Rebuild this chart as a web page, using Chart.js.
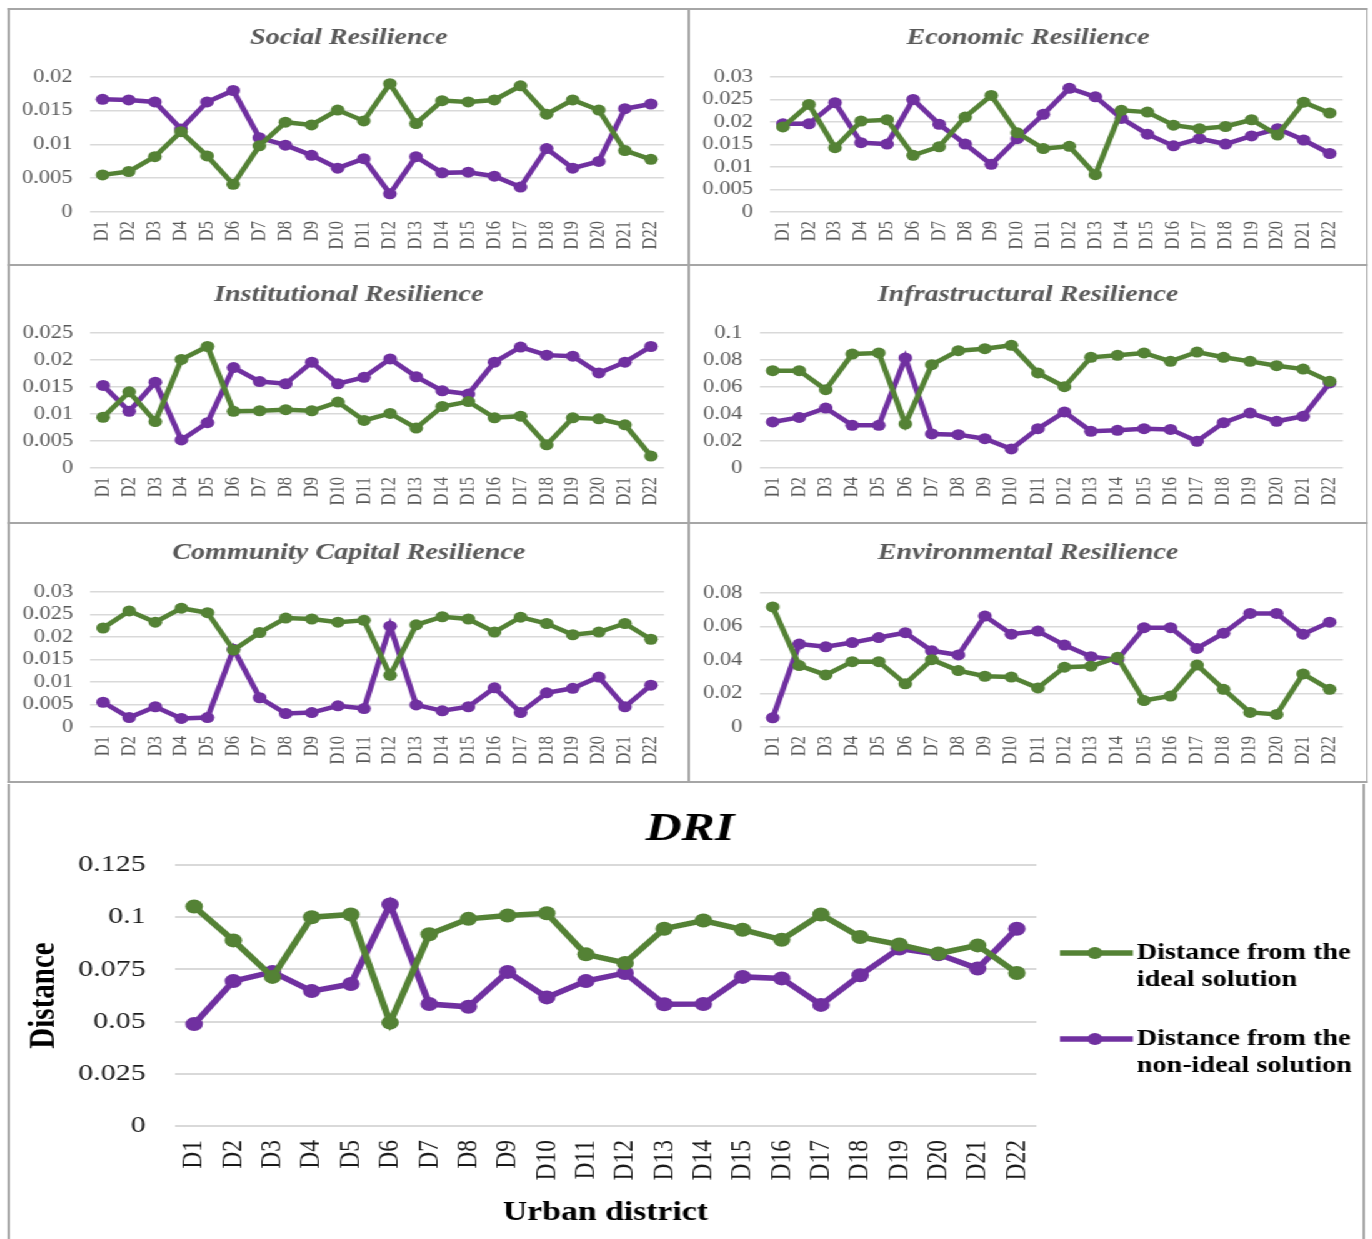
<!DOCTYPE html>
<html>
<head>
<meta charset="utf-8">
<script src="https://cdn.jsdelivr.net/npm/chart.js@4.4.1/dist/chart.umd.min.js"></script>
<style>
  html, body { margin: 0; padding: 0; background: #ffffff; overflow: hidden; }
  /* the figure is laid out in a narrow sheet and widened horizontally */
  #sheet { position: absolute; left: 0; top: 0; width: 1098px; height: 1239px;
           transform: scaleX(1.25); transform-origin: 0 0; }
  .rule { position: absolute; background: #a6a6a6; }
  canvas { position: absolute; }
</style>
</head>
<body>
<div id="sheet"></div>
<script>
// ---------- data ----------
const districts = ['D1','D2','D3','D4','D5','D6','D7','D8','D9','D10','D11',
                   'D12','D13','D14','D15','D16','D17','D18','D19','D20','D21','D22'];

const seriesNames = ['Distance from the ideal solution', 'Distance from the non-ideal solution'];

const socialIdeal    = [0.0055,0.0060,0.0082,0.0119,0.0083,0.0041,0.0098,0.0133,0.0129,0.0151,0.0135,0.0190,0.0131,0.0165,0.0163,0.0166,0.0187,0.0145,0.0166,0.0151,0.0091,0.0078];
const socialNonIdeal = [0.0167,0.0166,0.0163,0.0123,0.0163,0.0180,0.0110,0.0099,0.0084,0.0065,0.0079,0.0027,0.0082,0.0058,0.0059,0.0053,0.0037,0.0094,0.0065,0.0075,0.0153,0.0160];
const socialTicks    = ['0','0.005','0.01','0.015','0.02'];

const economicIdeal    = [0.0189,0.0239,0.0143,0.0202,0.0205,0.0126,0.0145,0.0211,0.0259,0.0176,0.0141,0.0146,0.0083,0.0226,0.0222,0.0193,0.0185,0.0190,0.0205,0.0171,0.0244,0.0220];
const economicNonIdeal = [0.0196,0.0196,0.0243,0.0154,0.0151,0.0250,0.0195,0.0151,0.0106,0.0163,0.0217,0.0275,0.0256,0.0208,0.0173,0.0147,0.0163,0.0151,0.0169,0.0185,0.0160,0.0130];
const economicTicks    = ['0','0.005','0.01','0.015','0.02','0.025','0.03'];

const institutionalIdeal    = [0.0094,0.0141,0.0086,0.0201,0.0225,0.0105,0.0106,0.0108,0.0106,0.0122,0.0088,0.0101,0.0074,0.0114,0.0123,0.0093,0.0096,0.0043,0.0093,0.0091,0.0080,0.0022];
const institutionalNonIdeal = [0.0153,0.0105,0.0159,0.0052,0.0084,0.0186,0.0160,0.0156,0.0196,0.0156,0.0168,0.0202,0.0169,0.0143,0.0137,0.0196,0.0224,0.0209,0.0207,0.0176,0.0196,0.0225];
const institutionalTicks    = ['0','0.005','0.01','0.015','0.02','0.025'];

const infraIdeal    = [0.0721,0.0721,0.0580,0.0844,0.0852,0.0326,0.0765,0.0869,0.0884,0.0909,0.0704,0.0602,0.0820,0.0835,0.0852,0.0790,0.0859,0.0820,0.0790,0.0758,0.0733,0.0642];
const infraNonIdeal = [0.0341,0.0375,0.0444,0.0316,0.0316,0.0815,0.0252,0.0247,0.0217,0.0141,0.0291,0.0415,0.0272,0.0279,0.0291,0.0286,0.0198,0.0336,0.0407,0.0346,0.0383,0.0630];
const infraTicks    = ['0','0.02','0.04','0.06','0.08','0.1'];

const communityIdeal    = [0.0220,0.0258,0.0233,0.0264,0.0254,0.0171,0.0210,0.0242,0.0240,0.0233,0.0237,0.0115,0.0227,0.0245,0.0240,0.0211,0.0244,0.0230,0.0205,0.0211,0.0230,0.0195];
const communityNonIdeal = [0.0055,0.0021,0.0045,0.0019,0.0021,0.0173,0.0065,0.0030,0.0032,0.0047,0.0041,0.0224,0.0049,0.0036,0.0045,0.0087,0.0032,0.0076,0.0086,0.0111,0.0045,0.0093];
const communityTicks    = ['0','0.005','0.01','0.015','0.02','0.025','0.03'];

const environmentalIdeal    = [0.0717,0.0367,0.0311,0.0390,0.0390,0.0258,0.0402,0.0337,0.0303,0.0298,0.0233,0.0357,0.0363,0.0416,0.0158,0.0185,0.0370,0.0225,0.0087,0.0075,0.0317,0.0225];
const environmentalNonIdeal = [0.0055,0.0495,0.0479,0.0504,0.0534,0.0563,0.0455,0.0430,0.0662,0.0554,0.0573,0.0489,0.0420,0.0402,0.0593,0.0593,0.0469,0.0560,0.0678,0.0678,0.0554,0.0626];
const environmentalTicks    = ['0','0.02','0.04','0.06','0.08'];

const driIdeal    = [0.1051,0.0889,0.0714,0.1000,0.1013,0.0495,0.0918,0.0992,0.1008,0.1019,0.0822,0.0781,0.0945,0.0984,0.0940,0.0892,0.1013,0.0905,0.0869,0.0826,0.0865,0.0733];
const driNonIdeal = [0.0488,0.0694,0.0738,0.0646,0.0680,0.1061,0.0584,0.0571,0.0738,0.0616,0.0694,0.0733,0.0583,0.0584,0.0714,0.0707,0.0580,0.0722,0.0850,0.0822,0.0754,0.0945];
const driTicks    = ['0','0.025','0.05','0.075','0.1','0.125'];

// ---------- styling ----------
const GREEN  = '#548235';
const PURPLE = '#7030a0';
const SERIF  = "'Liberation Serif', 'Times New Roman', 'DejaVu Serif', serif";
const S = 1.25;                 // horizontal widening of the sheet
const u = x => x / S;           // page x -> sheet x
const sheet = document.getElementById('sheet');

function rule(x0, y0, x1, y1) {
  const d = document.createElement('div');
  d.className = 'rule';
  d.style.left = u(x0) + 'px';
  d.style.top = y0 + 'px';
  d.style.width = Math.max(u(x1 - x0), 1.6) + 'px';
  d.style.height = Math.max(y1 - y0, 2) + 'px';
  sheet.appendChild(d);
}

// frame around the six small panels
rule(8, 8, 1368, 10);
rule(8, 8, 10, 783);
rule(1366, 8, 1368, 783);
rule(688, 8, 690, 783);
rule(8, 264, 1368, 266);
rule(8, 522, 1368, 524);
rule(8, 781, 1368, 783);
// frame around the DRI panel
rule(8, 784, 10, 1239);
rule(1363, 784, 1365, 1239);

const smallLook = {
  titleSize: 22.5, titleColor: '#595959', tickColor: '#595959',
  yTickSize: 18, xTickSize: 16.5, yPad: u(17), xPad: 9,
  lineW: 4.5, pointR: 5.5, gridW: 1.6
};
const bigLook = {
  titleSize: 40, titleColor: '#000000', tickColor: '#1a1a1a',
  yTickSize: 24, xTickSize: 23.5, yPad: u(29), xPad: 14,
  lineW: 5.5, pointR: 7, gridW: 2
};

function labelFor(ticks, v) {
  const hit = ticks.find(t => Math.abs(Number(t) - v) < 1e-9);
  return hit === undefined ? '' : hit;
}

function makeChart(spec, look) {
  const cx0 = Math.round(u(spec.canvas[0]));
  const cw  = Math.round(u(spec.canvas[2])) - cx0;
  const cy0 = spec.canvas[1];
  const ch  = spec.canvas[3] - spec.canvas[1];
  const cv = document.createElement('canvas');
  cv.width = cw; cv.height = ch;
  cv.style.left = cx0 + 'px';
  cv.style.top = cy0 + 'px';
  sheet.appendChild(cv);

  const [L, T, R, B] = spec.area;
  const leftW   = u(L) - cx0;
  const rightW  = cx0 + cw - u(R);
  const bottomH = cy0 + ch - B;
  const tPadTop = spec.titleY - cy0 - 0.6 * look.titleSize;
  const tPadBottom = T - cy0 - tPadTop - 1.2 * look.titleSize;
  const tickVals = spec.ticks.map(Number);

  const series = (name, values, color) => ({
    label: name, data: values,
    borderColor: color, backgroundColor: color,
    pointBackgroundColor: color, pointBorderColor: color,
    borderWidth: look.lineW, pointRadius: look.pointR, pointBorderWidth: 0,
    tension: 0
  });

  const xScale = {
    offset: true,
    grid: { display: false, drawTicks: false },
    border: { display: false },
    ticks: { autoSkip: false, minRotation: 90, maxRotation: 90, padding: look.xPad,
             color: look.tickColor, font: { family: SERIF, size: look.xTickSize } },
    afterFit: s => { s.height = bottomH; }
  };
  const yScale = {
    min: 0, max: tickVals[tickVals.length - 1],
    grid: { color: '#d9d9d9', lineWidth: look.gridW, drawTicks: false },
    border: { display: false },
    ticks: { autoSkip: false, padding: look.yPad,
             color: look.tickColor, font: { family: SERIF, size: look.yTickSize },
             callback: v => labelFor(spec.ticks, v) },
    // one tick per entry of the tick list
    afterBuildTicks: s => { s.ticks = tickVals.map(v => ({ value: v })); },
    afterFit: s => { s.width = leftW; }
  };
  if (spec.xTitle) {
    xScale.title = { display: true, text: spec.xTitle.text, color: '#000000',
      font: { family: SERIF, size: spec.xTitle.size, weight: 'bold', lineHeight: 1.2 },
      padding: { top: 0, bottom: (cy0 + ch - spec.xTitle.y) - 0.6 * spec.xTitle.size } };
  }
  if (spec.yTitle) {
    yScale.title = { display: true, text: spec.yTitle.text, color: '#000000',
      font: { family: SERIF, size: spec.yTitle.size, weight: 'bold', lineHeight: 1.2 },
      padding: { top: (u(spec.yTitle.x) - cx0) - 0.6 * spec.yTitle.size, bottom: 0 } };
  }

  new Chart(cv, {
    type: 'line',
    data: {
      labels: districts,
      datasets: [
        series(seriesNames[0], spec.ideal, GREEN),
        series(seriesNames[1], spec.nonIdeal, PURPLE)
      ]
    },
    options: {
      responsive: false,
      animation: false,
      devicePixelRatio: 1,
      layout: { padding: 0 },
      plugins: {
        legend: { display: false },
        tooltip: { enabled: false },
        title: {
          display: true, text: spec.title, color: look.titleColor,
          font: { family: SERIF, size: look.titleSize, weight: 'bold', style: 'italic', lineHeight: 1.2 },
          padding: { top: tPadTop, bottom: tPadBottom }
        }
      },
      scales: {
        x: xScale,
        y: yScale,
        // empty right-hand axis that keeps room beside the plot
        side: {
          position: 'right', display: true,
          grid: { display: false, drawTicks: false }, border: { display: false },
          ticks: { display: false },
          afterFit: s => { s.width = rightW; }
        }
      }
    },
    plugins: spec.legend ? [legendPlugin(spec.legend, cx0, cy0)] : []
  });
}

// two-line legend entries drawn to the right of the DRI plot
function legendPlugin(items, cx0, cy0) {
  return {
    id: 'sideLegend',
    afterDraw(chart) {
      const ctx = chart.ctx;
      ctx.save();
      items.forEach(it => {
        const y = it.y - cy0;
        ctx.strokeStyle = it.color;
        ctx.lineWidth = 5.5;
        ctx.beginPath();
        ctx.moveTo(u(1060) - cx0, y);
        ctx.lineTo(u(1133) - cx0, y);
        ctx.stroke();
        ctx.fillStyle = it.color;
        ctx.beginPath();
        ctx.arc(u(1095) - cx0, y, 6, 0, Math.PI * 2);
        ctx.fill();
        ctx.fillStyle = '#000000';
        ctx.font = 'bold 22.5px ' + SERIF;
        ctx.textBaseline = 'middle';
        ctx.textAlign = 'left';
        it.lines.forEach((t, i) => ctx.fillText(t, u(1137) - cx0, y + i * 27));
      });
      ctx.restore();
    }
  };
}

// ---------- panels ----------
makeChart({ title: 'Social Resilience', ideal: socialIdeal, nonIdeal: socialNonIdeal, ticks: socialTicks,
  canvas: [10, 10, 687, 264], area: [89.5, 77, 665, 212], titleY: 38 }, smallLook);
makeChart({ title: 'Economic Resilience', ideal: economicIdeal, nonIdeal: economicNonIdeal, ticks: economicTicks,
  canvas: [690, 10, 1366, 264], area: [770, 77, 1344, 212], titleY: 38 }, smallLook);
makeChart({ title: 'Institutional Resilience', ideal: institutionalIdeal, nonIdeal: institutionalNonIdeal, ticks: institutionalTicks,
  canvas: [10, 266, 687, 522], area: [90, 333, 665, 468], titleY: 295 }, smallLook);
makeChart({ title: 'Infrastructural Resilience', ideal: infraIdeal, nonIdeal: infraNonIdeal, ticks: infraTicks,
  canvas: [690, 266, 1366, 522], area: [759.5, 333, 1343, 468], titleY: 295 }, smallLook);
makeChart({ title: 'Community Capital Resilience', ideal: communityIdeal, nonIdeal: communityNonIdeal, ticks: communityTicks,
  canvas: [10, 524, 687, 781], area: [90, 592, 665, 727], titleY: 553 }, smallLook);
makeChart({ title: 'Environmental Resilience', ideal: environmentalIdeal, nonIdeal: environmentalNonIdeal, ticks: environmentalTicks,
  canvas: [690, 524, 1366, 781], area: [759.5, 593, 1343, 727], titleY: 553 }, smallLook);

makeChart({ title: 'DRI', ideal: driIdeal, nonIdeal: driNonIdeal, ticks: driTicks,
  canvas: [11, 785, 1369, 1239], area: [174.5, 865, 1036.5, 1126], titleY: 830,
  xTitle: { text: 'Urban district', size: 27, y: 1213 },
  yTitle: { text: 'Distance', size: 29, x: 45 },
  legend: [
    { color: GREEN,  y: 953,  lines: ['Distance from the', 'ideal solution'] },
    { color: PURPLE, y: 1039, lines: ['Distance from the', 'non-ideal solution'] }
  ] }, bigLook);
</script>
</body>
</html>
